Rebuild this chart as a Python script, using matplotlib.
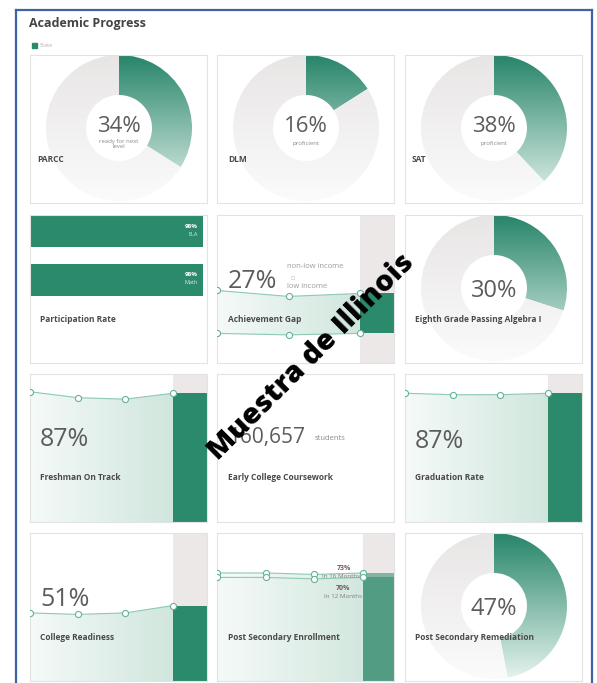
"""Academic Progress dashboard tiles redrawn with matplotlib."""

import matplotlib

matplotlib.use("Agg")
import matplotlib.pyplot as plt
import numpy as np
from matplotlib.colors import LinearSegmentedColormap
from matplotlib.lines import Line2D
from matplotlib.patches import Polygon, Rectangle

W, H = 597, 683

# --- data ------------------------------------------------------------------
donut_titles = ["PARCC", "DLM", "SAT", "Eighth Grade Passing Algebra I", "Post Secondary Remediation"]
donut_values = [34, 16, 38, 30, 47]
donut_notes = ["ready for next\nlevel", "proficient", "proficient", "", ""]

participation_subjects = ["ELA", "Math"]
participation_values = [98, 98]

gap_non_low_income = [49, 45, 47]
gap_low_income = [20, 19, 20]

freshman_on_track = [88, 84, 83, 87]
graduation_rate = [87, 86, 86, 87]
college_readiness = [46, 45, 46, 51]
enroll_16_months = [73, 73, 72, 73]
enroll_12_months = [70, 70, 69, 70]

early_college_students = 160657

# --- layout / style ---------------------------------------------------------
COL_X = [30, 217, 405]
ROW_Y = [55, 215, 374, 533]
CARD_W, CARD_H = 177, 148

GREEN = "#2b8a6b"
GRAY_BAR = "#ece8e8"
TEXT_DARK = "#4a4a4a"
TEXT_NUM = "#5c5c5c"
FONT = "Open Sans"

donut_cmap = LinearSegmentedColormap.from_list("donut", ["#27856a", "#e6f3ee"])
ring_cmap = LinearSegmentedColormap.from_list("ring", ["#e8e5e5", "#fbfbfb"])
area_cmap = LinearSegmentedColormap.from_list("area", ["#f5faf8", "#d0e6dd"])

plt.rcParams["font.family"] = [FONT, "DejaVu Sans"]


def card_axes(fig, col, row):
    x, y = COL_X[col], ROW_Y[row]
    ax = fig.add_axes([x / W, 1 - (y + CARD_H) / H, CARD_W / W, CARD_H / H])
    ax.set_xticks([])
    ax.set_yticks([])
    for spine in ax.spines.values():
        spine.set_color("#e3e3e3")
        spine.set_linewidth(0.8)
    return ax


def put(ax, dx, dy, text, **kw):
    """Place text at a pixel offset from the card's top-left corner."""
    kw.setdefault("va", "center")
    return ax.text(dx / CARD_W, 1 - dy / CARD_H, text, transform=ax.transAxes, **kw)


def card_label(ax, text, dx=10, dy=104):
    put(ax, dx, dy, text, fontsize=6, fontweight="bold", color=TEXT_DARK, zorder=6)


def draw_donut(ax, value, note, title, label_dx):
    cx, cy, radius = 89, CARD_H - 73, 73
    wedges, _ = ax.pie(
        [value, 100 - value],
        center=(cx, cy),
        radius=radius,
        startangle=90,
        counterclock=False,
        wedgeprops=dict(width=40, linewidth=0),
        frame=True,
    )
    grad = np.linspace(0, 1, 256)[:, None]
    extent = (cx - radius, cx + radius, cy - radius, cy + radius)
    for wedge, cmap in zip(wedges, [donut_cmap, ring_cmap]):
        im = ax.imshow(grad, extent=extent, cmap=cmap, aspect="auto", origin="upper", zorder=1)
        im.set_clip_path(wedge)
        wedge.set_facecolor("none")
    ax.set_xlim(0, CARD_W)
    ax.set_ylim(0, CARD_H)
    ax.set_aspect("auto")
    ax.set_xticks([])
    ax.set_yticks([])

    if note:
        put(ax, cx, 72, f"{value}%", fontsize=16, color=TEXT_NUM, ha="center", zorder=5)
        put(ax, cx, 89, note, fontsize=4.3, color="#8a8a8a", ha="center",
            linespacing=1.1, zorder=5)
    else:
        put(ax, cx, 76, f"{value}%", fontsize=17, color=TEXT_NUM, ha="center", zorder=5)
    card_label(ax, title, dx=label_dx)


def gradient_area(ax, verts, x0, x1, y0, y1, alpha=1.0):
    poly = Polygon(verts, closed=True, facecolor="none", edgecolor="none")
    ax.add_patch(poly)
    grad = np.linspace(0, 1, 256)[None, :]
    im = ax.imshow(grad, extent=(x0, x1, y0, y1), cmap=area_cmap, aspect="auto",
                   alpha=alpha, zorder=1)
    im.set_clip_path(poly)


def draw_points(ax, x, y):
    ax.plot(x, y, color="#8ccab3", lw=0.8, marker="o", ms=4.4, mfc="white",
            mec="#64b396", mew=0.8, zorder=4)


def trend_card(ax, series, title, bar_px=34, num_dy=66):
    n = len(series)
    step = (CARD_W - bar_px) / (n - 1)
    xmax = CARD_W / step
    x = np.arange(n)
    bar_w = xmax - (n - 1)

    ax.bar(n - 1, 100, width=bar_w, align="edge", color=GRAY_BAR, zorder=1)
    ax.bar(n - 1, series[-1], width=bar_w, align="edge", color=GREEN, zorder=2)
    verts = [(0, 0)] + list(zip(x, series)) + [(n - 1, 0)]
    gradient_area(ax, verts, 0, n - 1, 0, 100)
    draw_points(ax, x, series)

    ax.set_xlim(0, xmax)
    ax.set_ylim(0, 100)
    put(ax, 10, num_dy, f"{series[-1]}%", fontsize=18, color=TEXT_NUM, zorder=5)
    card_label(ax, title)


def participation_card(ax):
    ax.set_xlim(0, 100)
    ax.set_ylim(CARD_H, 0)
    ypos = [16, 65]
    ax.barh(ypos, participation_values, height=32, left=0, color=GREEN, zorder=2)
    for y, v, subj in zip(ypos, participation_values, participation_subjects):
        ax.text(v - 3, y - 5, f"{v}%", fontsize=4.5, fontweight="bold", color="white",
                ha="right", va="center", zorder=5)
        ax.text(v - 3, y + 3, subj, fontsize=4, color="#d8eee6", ha="right",
                va="center", zorder=5)
    card_label(ax, "Participation Rate", dy=105)


def gap_card(ax):
    n = len(gap_non_low_income)
    step = (CARD_W - 34) / (n - 1)
    xmax = CARD_W / step
    x = np.arange(n)
    bar_w = xmax - (n - 1)
    top, low = gap_non_low_income, gap_low_income

    ax.bar(n - 1, 100, width=bar_w, align="edge", color=GRAY_BAR, zorder=1)
    ax.bar(n - 1, top[-1] - low[-1], bottom=low[-1], width=bar_w, align="edge",
           color=GREEN, zorder=2)
    verts = list(zip(x, top)) + list(zip(x[::-1], low[::-1]))
    gradient_area(ax, verts, 0, n - 1, 0, 100)
    draw_points(ax, x, top)
    draw_points(ax, x, low)
    ax.set_xlim(0, xmax)
    ax.set_ylim(0, 100)

    put(ax, 11, 67, f"{top[-1] - low[-1]}%", fontsize=18, color=TEXT_NUM, zorder=5)
    put(ax, 70, 52, "non-low income", fontsize=5.5, color="#a09b9b", zorder=5)
    put(ax, 70, 71, "low income", fontsize=5.5, color="#a09b9b", zorder=5)
    ax.add_patch(Rectangle((74 / CARD_W, 1 - 64 / CARD_H), 3 / CARD_W, 3 / CARD_H,
                           transform=ax.transAxes, facecolor="white",
                           edgecolor="#c8c4c4", lw=0.4, zorder=5))
    card_label(ax, "Achievement Gap", dx=11, dy=105)


def enrollment_card(ax):
    n = len(enroll_16_months)
    bar_px = 31
    step = (CARD_W - bar_px) / (n - 1)
    xmax = CARD_W / step
    x = np.arange(n)
    bar_w = xmax - (n - 1)

    ax.bar(n - 1, 100, width=bar_w, align="edge", color=GRAY_BAR, zorder=1)
    for series in (enroll_16_months, enroll_12_months):
        ax.bar(n - 1, series[-1], width=bar_w, align="edge", color=GREEN,
               alpha=0.55, zorder=2)
        verts = [(0, 0)] + list(zip(x, series)) + [(n - 1, 0)]
        gradient_area(ax, verts, 0, n - 1, 0, 100, alpha=0.75)
    draw_points(ax, x, enroll_16_months)
    draw_points(ax, x, enroll_12_months)
    ax.set_xlim(0, xmax)
    ax.set_ylim(0, 100)

    note_color = "#6e5d5d"
    put(ax, 127, 36, f"{enroll_16_months[-1]}%", fontsize=5, fontweight="bold",
        color=note_color, ha="center", zorder=5)
    put(ax, 124, 44, "In 16 Months", fontsize=4.5, color="#8a7c7c", ha="center", zorder=5)
    put(ax, 126, 56, f"{enroll_12_months[-1]}%", fontsize=5, fontweight="bold",
        color=note_color, ha="center", zorder=5)
    put(ax, 126, 64, "In 12 Months", fontsize=4.5, color="#8a7c7c", ha="center", zorder=5)
    card_label(ax, "Post Secondary Enrollment", dx=11)


def early_college_card(ax):
    put(ax, 11, 64, f"{early_college_students:,}", fontsize=15, color=TEXT_NUM, zorder=5)
    put(ax, 98, 65, "students", fontsize=5.5, color="#8a8a8a", zorder=5)
    card_label(ax, "Early College Coursework", dx=11)


def main():
    fig = plt.figure(figsize=(W / 100, H / 100), dpi=100)
    fig.patch.set_facecolor("white")

    # outer frame
    frame_kw = dict(color="#3d63a6", lw=1.6, transform=fig.transFigure)
    fig.add_artist(Line2D([16 / W, 16 / W], [0, 1 - 10 / H], **frame_kw))
    fig.add_artist(Line2D([592 / W, 592 / W], [0, 1 - 10 / H], **frame_kw))
    fig.add_artist(Line2D([16 / W, 592 / W], [1 - 10 / H, 1 - 10 / H], **frame_kw))

    fig.text(29 / W, 1 - 24 / H, "Academic Progress", fontsize=9, fontweight="bold",
             color="#444444", va="center")
    fig.add_artist(Rectangle((32 / W, 1 - 48 / H), 5 / W, 5 / H,
                             transform=fig.transFigure, color=GREEN))
    fig.text(40 / W, 1 - 45.5 / H, "State", fontsize=4, color="#b0b0b0", va="center")

    donut_slots = [(0, 0, 7), (1, 0, 11), (2, 0, 7), (2, 1, 10), (2, 3, 10)]
    for (col, row, dx), value, note, title in zip(donut_slots, donut_values,
                                                 donut_notes, donut_titles):
        draw_donut(card_axes(fig, col, row), value, note, title, dx)

    participation_card(card_axes(fig, 0, 1))
    gap_card(card_axes(fig, 1, 1))
    trend_card(card_axes(fig, 0, 2), freshman_on_track, "Freshman On Track")
    early_college_card(card_axes(fig, 1, 2))
    trend_card(card_axes(fig, 2, 2), graduation_rate, "Graduation Rate", num_dy=68)
    trend_card(card_axes(fig, 0, 3), college_readiness, "College Readiness", num_dy=67)
    enrollment_card(card_axes(fig, 1, 3))

    # sample watermark across the middle
    fig.text(311 / W, 1 - 357 / H, "Muestra de Illinois", fontsize=21, fontweight="heavy",
             color="black", rotation=45, ha="center", va="center",
             rotation_mode="anchor", zorder=20)

    fig.savefig("out.png", dpi=100)
    plt.close(fig)


if __name__ == "__main__":
    main()
